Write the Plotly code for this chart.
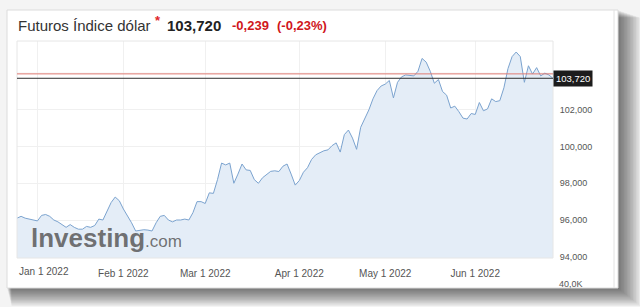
import pandas as pd
import plotly.graph_objects as go

# ---------------- data ----------------
start_date = "2021-12-27"
end_date = "2022-06-28"
dates = pd.bdate_range(start_date, end_date).strftime("%Y-%m-%d").tolist()

prices = [
    96.1, 96.2, 96.1, 96.05, 96.0,
    95.95, 96.25, 96.3, 96.2, 96.0, 95.9, 95.75, 95.6, 95.75, 95.6, 95.5,
    95.5, 95.65, 95.6, 95.7, 96.05, 96.0, 96.5, 96.95, 97.25, 97.05,
    96.6, 96.25, 95.85, 95.4, 95.45, 95.47, 95.45, 95.4, 95.85, 96.2,
    96.25, 96.0, 95.9, 96.0, 96.0, 96.05, 96.0, 96.4, 97.0, 97.0,
    96.9, 97.48, 97.45, 98.2, 99.1, 99.0, 99.1, 98.0, 98.5, 99.05, 98.73,
    98.7, 98.2, 98.0, 98.3, 98.5, 98.65, 98.68, 98.64, 98.93, 99.05, 98.5, 97.9,
    98.15, 98.6, 98.85, 99.3, 99.55, 99.68, 99.77, 99.82, 100.05, 100.2, 99.7,
    100.65, 100.9, 100.46, 99.85, 101.05, 101.5, 102.0, 102.6, 103.05, 103.3,
    103.4, 103.6, 102.65, 103.5, 103.8, 103.9, 103.88, 103.85, 104.1, 104.8,
    104.6, 104.1, 103.45, 103.65, 103.0, 102.8, 102.1, 102.2, 101.9, 101.55,
    101.5, 101.8,
    101.75, 102.4, 101.95, 102.05, 102.6, 102.45, 102.5, 103.2, 104.25, 104.9,
    105.15, 104.9, 103.5, 104.4, 103.95, 104.3, 103.85, 104.0, 103.9, 103.72,
]

title_name = "Futuros Índice dólar"
last_price = 103.720
change = -0.239
change_pct = -0.23
prev_close = 103.959

x_tick_dates = ["2022-01-03", "2022-02-01", "2022-03-01", "2022-04-01", "2022-05-02", "2022-06-01"]
x_tick_labels = ["Jan 1 2022", "Feb 1 2022", "Mar 1 2022", "Apr 1 2022", "May 1 2022", "Jun 1 2022"]
y_tick_vals = [94, 96, 98, 100, 102]
y_tick_labels = ["94,000", "96,000", "98,000", "100,000", "102,000"]
y_extra_grid = 104
volume_label = "40,0K"

# ---------------- layout helpers (pixel -> paper) ----------------
W, H = 640, 307
L, R, T, B = 17, 553, 41, 258


def xp(px):
    return (px - L) / (R - L)


def yp(py):
    return (B - py) / (B - T)


FONT = "Arial, Liberation Sans, sans-serif"
GRID = "#f0f0f0"
RED = "#d0161b"

fig = go.Figure()
fig.add_trace(go.Scatter(
    x=dates, y=prices, mode="lines",
    line=dict(color="#7ba3cf", width=1),
    fill="tozeroy", fillcolor="#e4edf7",
    hoverinfo="skip", showlegend=False,
))

shapes = []
# drop shadow
for k in range(1, 16):
    shapes.append(dict(type="rect", xref="paper", yref="paper", layer="below",
                       x0=xp(7 + k * 0.3), x1=xp(618 + k * 1.5),
                       y0=yp(288 + k * 1.2), y1=yp(10 + k * 0.5),
                       fillcolor="rgba(0,0,0,0.045)", line=dict(width=0)))
# white panel
shapes.append(dict(type="rect", xref="paper", yref="paper", layer="below",
                   x0=xp(7), x1=xp(618), y0=yp(288), y1=yp(10),
                   fillcolor="white", line=dict(color="#dcdcdc", width=1)))
# inner right border line of panel
shapes.append(dict(type="line", xref="paper", yref="paper", layer="below",
                   x0=xp(614), x1=xp(614), y0=yp(288), y1=yp(10),
                   line=dict(color="#e2e2e2", width=1)))
# extra gridlines (January tick and 104 level)
shapes.append(dict(type="line", xref="x", yref="paper", layer="between",
                   x0=x_tick_dates[0], x1=x_tick_dates[0], y0=0, y1=1,
                   line=dict(color=GRID, width=1)))
shapes.append(dict(type="line", xref="paper", yref="y", layer="between",
                   x0=0, x1=1, y0=y_extra_grid, y1=y_extra_grid,
                   line=dict(color=GRID, width=1)))
# plot frame
shapes.append(dict(type="rect", xref="paper", yref="paper", layer="above",
                   x0=0, x1=1, y0=0, y1=1,
                   line=dict(color="#e6e6e6", width=1)))
# previous close (red) and last price (black) lines
shapes.append(dict(type="line", xref="paper", yref="y", layer="above",
                   x0=0, x1=1, y0=prev_close, y1=prev_close,
                   line=dict(color="#e07a72", width=1)))
shapes.append(dict(type="line", xref="paper", yref="y", layer="above",
                   x0=0, x1=1, y0=last_price, y1=last_price,
                   line=dict(color="#2b2b2b", width=1)))


def fmt(v, d):
    return f"{v:.{d}f}".replace(".", ",")


def note(text, px, py, size, color, anchor="left", bold=False):
    return dict(xref="paper", yref="paper", x=xp(px), y=yp(py), xanchor=anchor,
                yanchor="middle", text=f"<b>{text}</b>" if bold else text, showarrow=False,
                font=dict(family=FONT, size=size, color=color))


annotations = [
    note(title_name, 16, 25, 15, "#333333"),
    note("*", 153, 20, 13, "#e0262a", bold=True),
    note(fmt(last_price, 3), 165, 25, 15, "#222222", bold=True),
    note(fmt(change, 3), 230, 25.5, 13, RED, bold=True),
    note(f"({fmt(change_pct, 2)}%)", 275, 25.5, 13, RED, bold=True),
    dict(xref="paper", yref="y", x=1, y=last_price, xanchor="left", yanchor="middle",
         text=fmt(last_price, 3), showarrow=False, bgcolor="#1c1c1c", borderpad=2,
         font=dict(family=FONT, size=9.5, color="white")),
    note(x_tick_labels[0], 17, 271, 10, "#555555"),
    note(volume_label, 557, 284, 9, "#555555"),
    note("lnvesting", 29, 238, 26, "rgba(90,90,90,0.85)", bold=True),
    note(".com", 143, 241, 17, "rgba(90,90,90,0.85)"),
]

fig.update_layout(
    width=W, height=H,
    margin=dict(l=L, r=W - R, t=T, b=H - B, pad=0),
    paper_bgcolor="#f4f4f4", plot_bgcolor="white",
    shapes=shapes, annotations=annotations,
    showlegend=False,
    xaxis=dict(
        type="category", range=[0, len(dates) - 1],
        tickmode="array", tickvals=x_tick_dates[1:],
        ticktext=x_tick_labels[1:],
        showgrid=True, gridcolor=GRID, gridwidth=1,
        ticks="outside", ticklen=6, tickcolor="rgba(0,0,0,0)",
        tickfont=dict(family=FONT, size=10, color="#555555"),
        showline=False, zeroline=False, fixedrange=True,
    ),
    yaxis=dict(
        side="right", range=[93.93, 105.75],
        tickmode="array", tickvals=y_tick_vals, ticktext=y_tick_labels,
        showgrid=True, gridcolor=GRID, gridwidth=1,
        ticks="outside", ticklen=4, tickcolor="rgba(0,0,0,0)",
        tickfont=dict(family=FONT, size=9, color="#555555"),
        showline=False, zeroline=False, fixedrange=True,
    ),
)

fig.write_html("out.html")
